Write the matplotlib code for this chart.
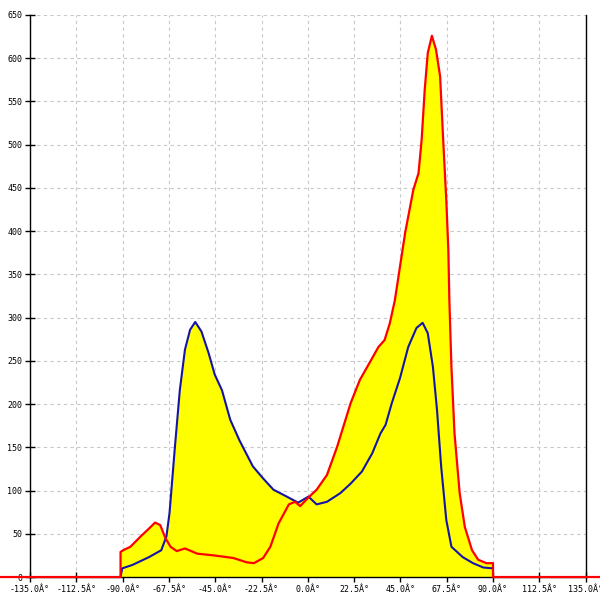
import matplotlib
matplotlib.use("Agg")
import matplotlib.pyplot as plt

# angle (deg) vs counts
blue_x = [-91, -90.2, -85.2, -77.2, -71.2, -68.7, -67.2, -64.7, -62.2, -59.7,
          -57.2, -54.7, -51.7, -48.2, -45.2, -41.7, -37.7, -33.2, -26.7, -21.7,
          -16.7, -10.2, -4.7, 0.3, 4.3, 9.3, 15.8, 20.8, 26.3, 31.3,
          35.3, 37.8, 40.8, 44.8, 48.8, 52.8, 55.8, 58.3, 60.8, 62.8,
          64.8, 67.3, 69.8, 75.3, 80.3, 85.3, 90]
blue_y = [0, 10, 14, 23, 31, 47, 74, 147, 216, 263,
          286, 295, 284, 259, 234, 216, 182, 158, 128, 114,
          101, 93, 86, 93, 84, 87, 97, 108, 122, 143,
          166, 176, 201, 230, 266, 288, 294, 282, 243, 193,
          128, 66, 35, 23, 16, 11, 10]

red_x = [-150, -91, -91, -89.7, -86.2, -81.2, -77.2, -74.2, -71.7, -69.2,
         -66.7, -63.7, -59.7, -53.7, -45.7, -36.2, -29.7, -26.2, -21.7, -18.2,
         -14.2, -9.2, -6.2, -3.7, 0.3, 4.3, 9.3, 14.3, 20.8, 25.3,
         30.3, 34.3, 37.3, 39.8, 42.3, 47.3, 51.3, 53.8, 55.3, 56.8,
         58.3, 60.3, 62.3, 64.3, 65.8, 67.3, 68.3, 68.8, 69.8, 71.3,
         73.8, 76.3, 79.8, 82.8, 86.8, 90, 90, 150]
red_y = [0, 0, 29, 31, 35, 47, 56, 63, 60, 45,
         35, 30, 33, 27, 25, 22, 17, 16, 22, 35,
         62, 84, 87, 82, 92, 101, 118, 151, 201, 228,
         249, 266, 274, 293, 320, 398, 448, 467, 505, 563,
         606, 626, 610, 579, 505, 436, 378, 320, 243, 166,
         97, 58, 31, 20, 16, 16, 0, 0]

x_ticks = [-135 + 22.5 * i for i in range(13)]
y_ticks = list(range(0, 651, 50))

fig = plt.figure(figsize=(6, 6), dpi=100)
ax = fig.add_axes([0.05, 0.0383, 0.926, 0.9367])

ax.fill_between(blue_x, 0, blue_y, color="#ffff00", lw=0, zorder=1)
ax.fill_between(red_x, 0, red_y, color="#ffff00", lw=0, zorder=1)
ax.plot(blue_x, blue_y, color="#1414a8", lw=1.5, zorder=3)
ax.plot(red_x, red_y, color="#ff0000", lw=1.6, zorder=4, clip_on=False)

ax.set_xlim(-135, 135)
ax.set_ylim(0, 650)
ax.set_xticks(x_ticks)
ax.set_xticklabels([f"{v:.1f}Â°" for v in x_ticks])
ax.set_yticks(y_ticks)
ax.set_yticklabels([str(v) for v in y_ticks])

ax.grid(True, color="#c8c8c8", linestyle=(0, (3, 3)), lw=0.8, zorder=0)
ax.set_axisbelow(True)
ax.spines["top"].set_visible(False)
for s in ["left", "right", "bottom"]:
    ax.spines[s].set_color("black")
    ax.spines[s].set_linewidth(1)

ax.tick_params(direction="inout", length=7, width=1, pad=2, labelsize=6)
for lab in ax.get_xticklabels() + ax.get_yticklabels():
    lab.set_family("DejaVu Sans Mono")

fig.savefig("out.png", dpi=100, facecolor="white")
